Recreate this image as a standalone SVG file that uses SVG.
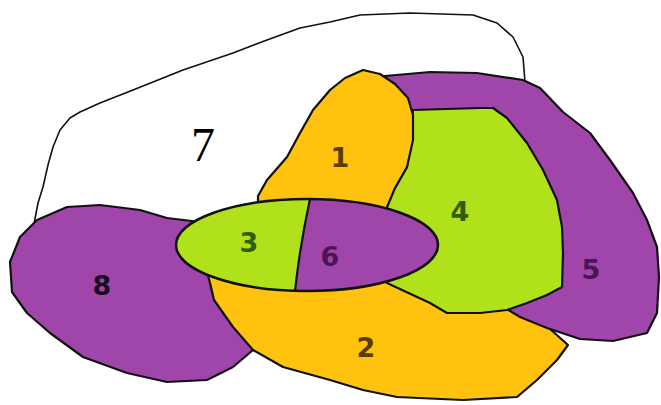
<svg xmlns="http://www.w3.org/2000/svg" width="661" height="405" viewBox="0 0 661 405">
<style>
.r{stroke:#111;stroke-width:2.2;stroke-linejoin:round}
.o{fill:#FFC20E}.g{fill:#B0E11B}.p{fill:#A045AA}
.t{font-family:"DejaVu Sans",Verdana,sans-serif;font-size:27px;font-weight:bold;text-anchor:middle}
</style>
<defs>
<clipPath id="ec"><ellipse cx="307" cy="245" rx="131" ry="46"/></clipPath>
</defs>
<rect width="661" height="405" fill="#fff"/>
<g id="region7">
<path d="M34,224 L38,203 L43,187 L48,165 L53,147 L60,130 L70,118 L80,112 L100,103 L133,90 L183,70 L233,53 L267,40 L300,28 L330,22 L360,15 L410,13 L473,15 L497,23 L513,37 L523,57 L525,82" fill="none" stroke="#111" stroke-width="1.6" stroke-linejoin="round"/>
<text x="203" y="161" font-family="'Liberation Serif','Times New Roman',serif" font-size="48" text-anchor="middle" fill="#000">7</text>
</g>
<g id="region8">
<path class="r p" d="M37,220 L67,207 L100,205 L140,210 L167,218 L192,221 L240,230 L262,300 L262,345 L253,350 L233,367 L207,380 L167,382 L127,373 L83,357 L50,333 L27,313 L12,292 L10,262 L20,237 Z"/>
<text class="t" x="102" y="295" fill="#1a0a1f">8</text>
</g>
<g id="region2">
<path class="r o" d="M206,268 L210,283 L214,300 L233,327 L253,350 L283,367 L330,380 L363,390 L397,397 L463,400 L517,397 L537,380 L557,360 L568,345 L540,320 L510,300 L430,265 L300,265 Z"/>
<text class="t" x="366" y="357" fill="#5a3c00">2</text>
</g>
<g id="region5">
<path class="r p" d="M385,76 L430,72 L477,73 L523,80 L540,88 L563,112 L590,133 L610,160 L633,193 L647,220 L657,247 L659,277 L657,313 L647,333 L613,341 L580,339 L547,328 L520,317 L505,308 L470,300 L420,200 L400,120 Z"/>
<text class="t" x="591" y="279" fill="#4b1452">5</text>
</g>
<g id="region4">
<path class="r g" d="M413,110 L480,108 L493,108 L507,118 L527,143 L543,170 L557,200 L562,227 L563,253 L562,287 L547,295 L527,303 L507,310 L480,313 L447,313 L430,303 L387,283 L400,240 L380,203 L395,188 L407,167 Z"/>
<text class="t" x="460" y="221" fill="#2d5e0a">4</text>
</g>
<g id="region1">
<path class="r o" d="M345,78 L363,70 L380,74 L395,84 L408,98 L413,115 L413,140 L407,167 L395,188 L385,212 L258,212 L258,196 L267,180 L287,157 L300,133 L313,110 L330,90 Z"/>
<text class="t" x="340" y="167" fill="#5a3c00">1</text>
</g>
<g id="region6">
<ellipse class="p" cx="307" cy="245" rx="131" ry="46"/>
<text class="t" x="330" y="266" fill="#4b1452">6</text>
</g>
<g id="region3">
<path class="g" clip-path="url(#ec)" d="M170,190 L311,190 Q300,245 294,300 L170,300 Z"/>
<text class="t" x="249" y="252" fill="#2d5e0a">3</text>
</g>
<g id="borders">
<ellipse cx="307" cy="245" rx="131" ry="46" fill="none" stroke="#111" stroke-width="2.6"/>
<path d="M310,199 Q300,245 295,291" fill="none" stroke="#111" stroke-width="2.2"/>
</g>
</svg>
